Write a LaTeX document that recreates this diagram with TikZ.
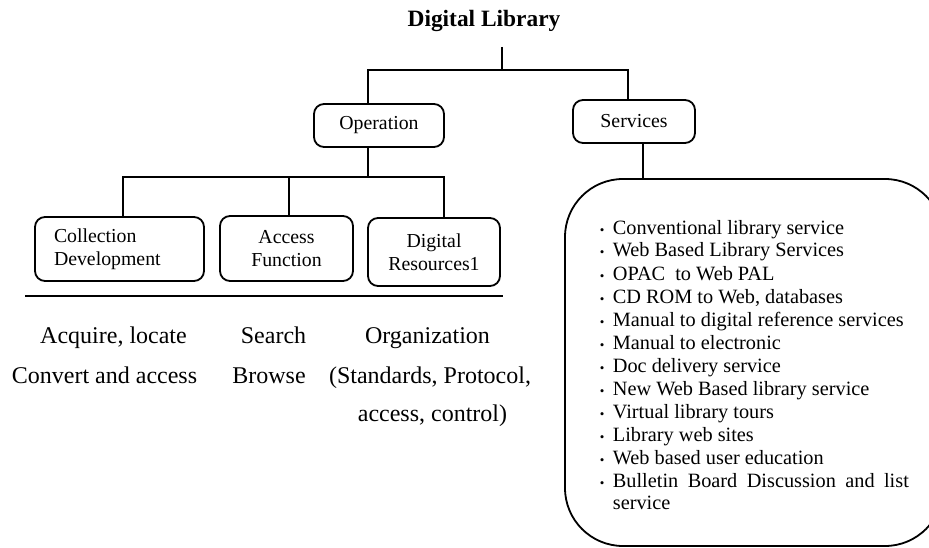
\documentclass[tikz,border=0pt]{standalone}
\usepackage{fontspec}
\setmainfont{Liberation Serif}
\begin{document}
\begin{tikzpicture}[x=1pt,y=-1pt,line width=1.8pt,
  box/.style={draw,rounded corners=10pt,inner sep=0pt,align=center,
    font=\fontsize{19.8}{23}\selectfont},
  big/.style={font=\fontsize{24}{28}\selectfont,anchor=base},
  item/.style={font=\fontsize{20.3}{23}\selectfont,anchor=base west,inner sep=0pt},
  dot/.style={font=\fontsize{13}{14}\selectfont,anchor=base west,inner sep=0pt}]
\useasboundingbox (0,0) rectangle (929,548);
\clip (0,0) rectangle (929,548);

% title
\node[font=\bfseries\fontsize{23.4}{27}\selectfont,anchor=base] (title) at (484,27) {Digital Library};
\coordinate (root) at (502,47);
\coordinate (hub) at (502,70);

% first level
\node[box,minimum width=130,minimum height=43] (op) at (379,125.5) {Operation};
\node[box,minimum width=122,minimum height=43] (serv) at (634,121.5) {Services};

% second level
\node[box,minimum width=169,minimum height=64,text width=131,align=left] (coll) at (119.5,249)
  {Collection\\Development};
\node[box,minimum width=133,minimum height=65] (acc) at (286.5,248.5) {Access\\Function};
\node[box,minimum width=132,minimum height=68] (dig) at (434,252) {Digital\\Resources1};

% connectors
\coordinate (opTop) at ([xshift=-11pt]op.north);
\coordinate (opBot) at ([xshift=-11pt]op.south);
\coordinate (servTop) at ([xshift=-6pt]serv.north);
\coordinate (servBot) at ([xshift=9pt]serv.south);
\coordinate (collTop) at ([xshift=3.5pt]coll.north);
\coordinate (accTop) at ([xshift=2.5pt]acc.north);
\coordinate (digTop) at ([xshift=10pt]dig.north);
\coordinate (hub2) at (368,177);
\coordinate (listTop) at (643,179);

\draw (root) -- (hub);
\draw (opTop) |- (hub) -| (servTop);
\draw (opBot) -- (hub2);
\draw (collTop) |- (hub2) -| (digTop);
\draw (accTop) -- (accTop |- hub2);
\draw (servBot) -- (listTop);

% separator under the operation boxes
\draw (25,296) -- (503,296);

% operation details
\node[big] (t1) at (113.5,343) {Acquire, locate};
\node[big] (t2) at (104.5,383) {Convert and access};
\node[big] (t3) at (273.5,343) {Search};
\node[big] (t4) at (269,383) {Browse};
\node[big] (t5) at (427.5,343) {Organization};
\node[big] (t6) at (430,383) {(Standards, Protocol,};
\node[big] (t7) at (432.5,421) {access, control)};

% services panel
\draw[rounded corners=58pt] (565,179) rectangle (943,546);
\foreach \i/\txt in {0/Conventional library service,
  1/Web Based Library Services,
  2/OPAC\ \ to Web PAL,
  3/CD ROM to Web{,} databases,
  4/Manual to digital reference services,
  5/Manual to electronic,
  6/Doc delivery service,
  7/New Web Based library service,
  8/Virtual library tours,
  9/Library web sites,
  10/Web based user education}{
  \node[dot] (b\i) at (599,234+23*\i) {\textbullet};
  \node[item] (s\i) at (612,234+23*\i) {\txt};
}
\node[dot] (b11) at (599,487) {\textbullet};
\node[item] (s11) at (612,487) {\makebox[296pt][s]{Bulletin Board Discussion and list}};
\node[item] (s12) at (612,509) {service};
\end{tikzpicture}
\end{document}
